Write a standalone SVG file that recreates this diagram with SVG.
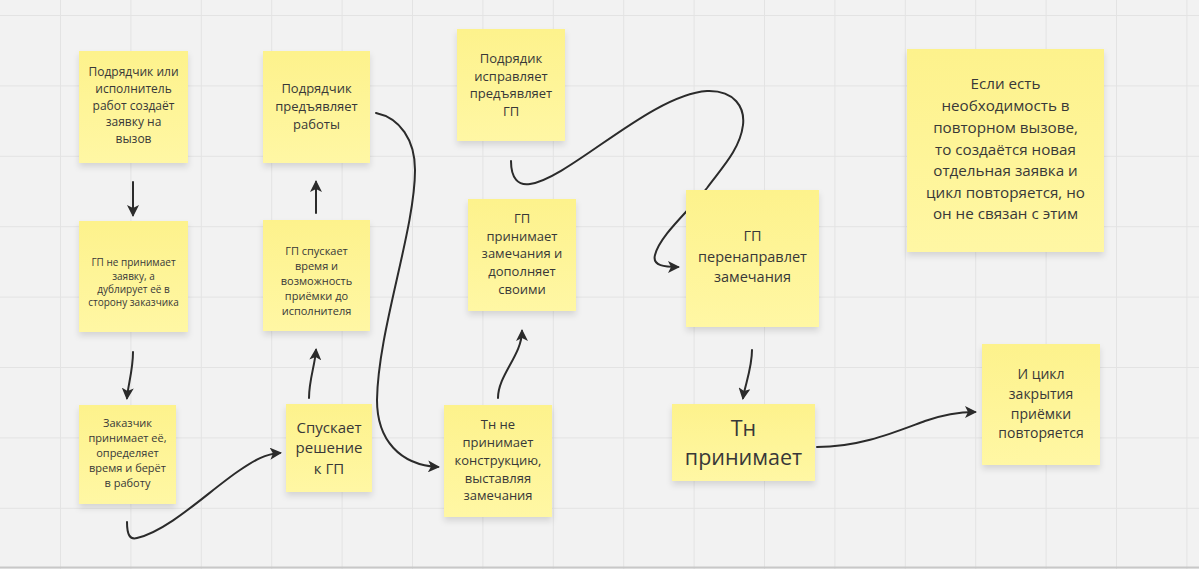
<svg xmlns="http://www.w3.org/2000/svg" width="1199" height="569" viewBox="0 0 1199 569">
<defs>
<pattern id="grid" x="60" y="15" width="70.4" height="70.4" patternUnits="userSpaceOnUse">
<path d="M0,0 V70.4 M0,0 H70.4" fill="none" stroke="#e3e3e3" stroke-width="2"/>
</pattern>
<linearGradient id="yel" x1="0" y1="0" x2="0" y2="1">
<stop offset="0" stop-color="#fdf28c"/>
<stop offset="1" stop-color="#fff7a4"/>
</linearGradient>
<filter id="sh" x="-20%" y="-20%" width="140%" height="150%">
<feDropShadow dx="0" dy="4" stdDeviation="3" flood-color="#000" flood-opacity="0.12"/>
</filter>
<marker id="ah" viewBox="0 0 12 12" refX="10" refY="6" markerWidth="12" markerHeight="12" markerUnits="userSpaceOnUse" orient="auto">
<path d="M0,0 L12,6 L0,12 L3,6 z" fill="#2b2b2b"/>
</marker>
<style>
.st{fill:url(#yel);filter:url(#sh)}
.t{font-family:"Open Sans","Noto Sans",sans-serif;fill:#383838;text-anchor:middle}
.c{fill:none;stroke:#2b2b2b;stroke-width:2;stroke-linecap:round}
.a{marker-end:url(#ah)}
</style>
</defs>
<rect width="1199" height="569" fill="#f2f2f2"/>
<rect width="1199" height="569" fill="url(#grid)"/>
<line x1="0" y1="567.5" x2="1199" y2="567.5" stroke="#c8c8c8" stroke-width="2"/>

<g id="connectors">
<path class="c a" d="M133,182 V215"/>
<path class="c a" d="M316,213 V182"/>
<path class="c a" d="M133,352 C133,370 128,385 127,398"/>
<path class="c a" d="M309,398 C309,380 315,365 316,350"/>
<path class="c a" d="M127,522 C127,535 130,540 137,538 C170,530 210,490 240,470 C255,460 265,454 280,453"/>
<path class="c a" d="M376,113 C400,118 415,140 415,170 C415,230 378,330 377,400 C377,440 400,465 438,467"/>
<path class="c a" d="M498,398 C498,375 522,355 522,331"/>
<path class="c a" d="M511,161 C511,178 518,186 530,184 C570,178 650,95 707,91 C735,90 745,108 743,125 C740,150 720,170 707,188 C690,210 660,235 655,255 C652,266 665,267 678,267"/>
<path class="c a" d="M752,350 C752,368 745,385 743,398"/>
<path class="c a" d="M817,447 C860,447 895,432 925,421 C945,414 960,412 975,412"/>
</g>

<g id="n1"><rect class="st" x="79" y="51" width="109" height="112"/>
<text class="t" font-size="12"><tspan x="133.5" y="76">Подрядчик или</tspan><tspan x="133.5" y="93">исполнитель</tspan><tspan x="133.5" y="110">работ создаёт</tspan><tspan x="133.5" y="126">заявку на</tspan><tspan x="133.5" y="143">вызов</tspan></text></g>

<g id="n2"><rect class="st" x="263" y="51" width="107" height="112"/>
<text class="t" font-size="13"><tspan x="316.5" y="92.5">Подрядчик</tspan><tspan x="316.5" y="110.5">предъявляет</tspan><tspan x="316.5" y="128.5">работы</tspan></text></g>

<g id="n3"><rect class="st" x="79" y="221" width="109" height="111"/>
<text class="t" font-size="10"><tspan x="133.5" y="265.5">ГП не принимает</tspan><tspan x="133.5" y="279.5">заявку, а</tspan><tspan x="133.5" y="292.5">дублирует её в</tspan><tspan x="133.5" y="305.5">сторону заказчика</tspan></text></g>

<g id="n4"><rect class="st" x="263" y="220" width="107" height="111"/>
<text class="t" font-size="11"><tspan x="316.5" y="255">ГП спускает</tspan><tspan x="316.5" y="270">время и</tspan><tspan x="316.5" y="285">возможность</tspan><tspan x="316.5" y="300">приёмки до</tspan><tspan x="316.5" y="315">исполнителя</tspan></text></g>

<g id="n5"><rect class="st" x="79" y="405" width="97" height="99"/>
<text class="t" font-size="11"><tspan x="127.5" y="427">Заказчик</tspan><tspan x="127.5" y="442">принимает её,</tspan><tspan x="127.5" y="457">определяет</tspan><tspan x="127.5" y="472">время и берёт</tspan><tspan x="127.5" y="487">в работу</tspan></text></g>

<g id="n6"><rect class="st" x="286" y="404" width="86" height="88"/>
<text class="t" font-size="15"><tspan x="329" y="432.5">Спускает</tspan><tspan x="329" y="452.5">решение</tspan><tspan x="329" y="473.5">к ГП</tspan></text></g>

<g id="n7"><rect class="st" x="457" y="29" width="108" height="112"/>
<text class="t" font-size="13"><tspan x="511" y="62.5">Подрядик</tspan><tspan x="511" y="80.5">исправляет</tspan><tspan x="511" y="97.5">предъявляет</tspan><tspan x="511" y="115.5">ГП</tspan></text></g>

<g id="n8"><rect class="st" x="468" y="199" width="108" height="112"/>
<text class="t" font-size="13"><tspan x="522" y="222.5">ГП</tspan><tspan x="522" y="240.5">принимает</tspan><tspan x="522" y="258">замечания и</tspan><tspan x="522" y="276">дополняет</tspan><tspan x="522" y="293.5">своими</tspan></text></g>

<g id="n9"><rect class="st" x="686" y="190" width="133" height="137"/>
<text class="t" font-size="14.5"><tspan x="752.5" y="241">ГП</tspan><tspan x="752.5" y="262">перенаправлет</tspan><tspan x="752.5" y="282">замечания</tspan></text></g>

<g id="n10"><rect class="st" x="444" y="405" width="108" height="112"/>
<text class="t" font-size="13"><tspan x="498" y="428.5">Тн не</tspan><tspan x="498" y="446.5">принимает</tspan><tspan x="498" y="464.5">конструкцию,</tspan><tspan x="498" y="482.5">выставляя</tspan><tspan x="498" y="499.5">замечания</tspan></text></g>

<g id="n11"><rect class="st" x="672" y="404" width="143" height="77"/>
<text class="t" font-size="21.5"><tspan x="743.5" y="435.5">Тн</tspan><tspan x="743.5" y="464.5">принимает</tspan></text></g>

<g id="n12"><rect class="st" x="907" y="49" width="197" height="203"/>
<text class="t" font-size="15.2"><tspan x="1005.5" y="89">Если есть</tspan><tspan x="1005.5" y="111">необходимость в</tspan><tspan x="1005.5" y="133">повторном вызове,</tspan><tspan x="1005.5" y="154.5">то создаётся новая</tspan><tspan x="1005.5" y="176">отдельная заявка и</tspan><tspan x="1005.5" y="197.5">цикл повторяется, но</tspan><tspan x="1005.5" y="219">он не связан с этим</tspan></text></g>

<g id="n13"><rect class="st" x="982" y="344" width="118" height="121"/>
<text class="t" font-size="14"><tspan x="1041" y="379">И цикл</tspan><tspan x="1041" y="399">закрытия</tspan><tspan x="1041" y="419">приёмки</tspan><tspan x="1041" y="438">повторяется</tspan></text></g>
</svg>
